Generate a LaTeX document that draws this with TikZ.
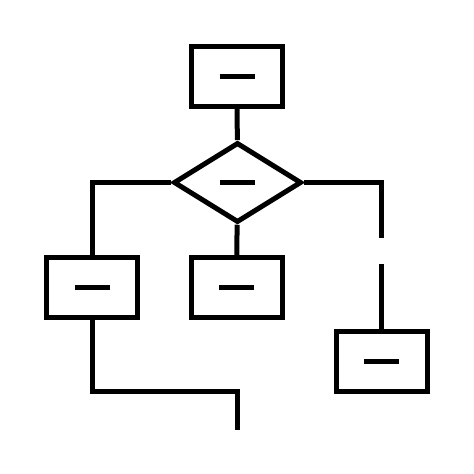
\documentclass[tikz,border=0pt]{standalone}
\usetikzlibrary{shapes.geometric}

\newcommand{\dashmark}{\rule[-2.5pt]{35pt}{5pt}}

\begin{document}
\begin{tikzpicture}[x=1pt, y=-1pt, line width=5pt,
  box/.style={draw, rectangle, inner sep=0pt, minimum width=91pt, minimum height=60pt},
  test/.style={draw, diamond, inner sep=0pt, minimum width=128pt, minimum height=80pt}]

 \useasboundingbox (0,0) rectangle (474,474);

 %%%%%%%%%% Points pour travailler %%%%%%%%%%
 \coordinate (gapTop) at (381.5,238);
 \coordinate (gapBot) at (381.5,264);
 \coordinate (bend) at (237,391);
 \coordinate (tail) at (237,430);

 %%%%%%%%%% Boxes %%%%%%%%%%
 \node[box] (start) at (237,76) {\dashmark};
 \node[test] (choice) at (237.5,182.5) {\dashmark};
 \node[box] (left) at (92,287.5) {\dashmark};
 \node[box] (middle) at (236.5,287.5) {\dashmark};
 \node[box] (right) at (381.5,361) {\dashmark};

 %%%%%%%%%% Links %%%%%%%%%%
 \draw (start) -- (choice) ;
 \draw (choice) -- (middle) ;
 \draw (choice.west) -| (left.north) ;
 \draw (choice.east) -| (gapTop) ;
 \draw (gapBot) -- (right.north) ;
 \draw (left.south) |- (bend) -- (tail) ;

\end{tikzpicture}
\end{document}
